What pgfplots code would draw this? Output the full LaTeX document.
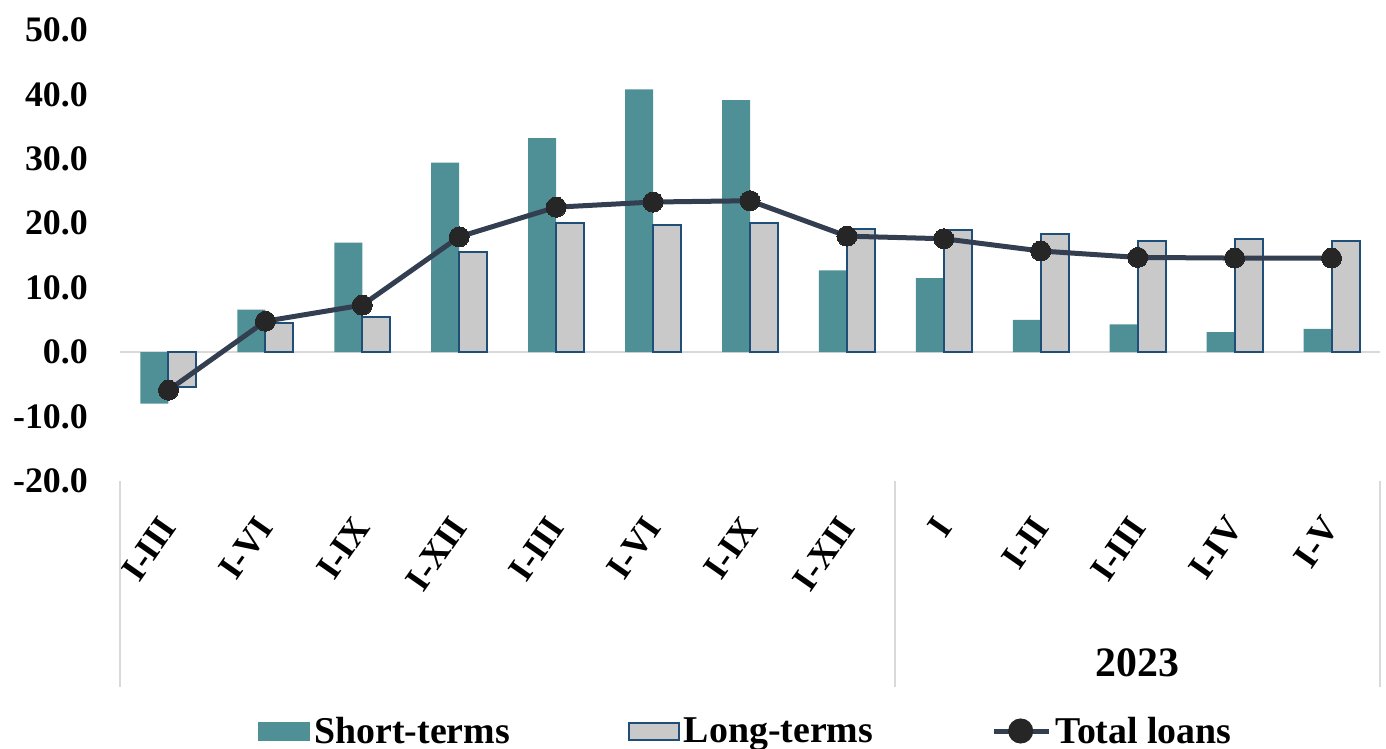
\documentclass[border=0pt]{standalone}
\usepackage{fontspec}
\setmainfont{Liberation Serif}
\usepackage{pgfplots}
\pgfplotsset{compat=1.18}
\definecolor{teal1}{HTML}{4F9097}
\definecolor{gray1}{HTML}{C9C9C9}
\definecolor{blue1}{HTML}{1F4E79}
\definecolor{line1}{HTML}{333F50}
\definecolor{mark1}{HTML}{262626}
\definecolor{sep1}{HTML}{D9D9D9}
\begin{document}
\begin{tikzpicture}
\useasboundingbox (0,0) rectangle (1386bp,749bp);
\begin{axis}[
  at={(120bp,268bp)}, anchor=south west,
  scale only axis, width=1260bp, height=451bp,
  xmin=-0.5, xmax=12.5, ymin=-20, ymax=50,
  clip=false,
  ytick={-20,-10,0,10,20,30,40,50},
  yticklabels={-20.0,-10.0,0.0,10.0,20.0,30.0,40.0,50.0},
  xtick={0,1,2,3,4,5,6,7,8,9,10,11,12},
  xticklabels={I-III,I-VI,I-IX,I-XII,I-III,I-VI,I-IX,I-XII,I,I-II,I-III,I-IV,I-V},
  axis line style={draw=none},
  major tick length=0pt,
  tick style={draw=none},
  yticklabel style={font=\fontsize{36}{40}\selectfont\bfseries, anchor=east, inner sep=0pt, xshift=-32bp},
  xticklabel style={font=\fontsize{36}{40}\selectfont\bfseries, inner sep=0pt, yshift=-40bp, rotate=55, anchor=east},
  extra y ticks={0}, extra y tick labels={},
  extra y tick style={grid=major, major grid style={draw=sep1, line width=2bp}},
  legend style={at={(axis description cs:0.5,0)}, anchor=center, xshift=-4bp, yshift=-250bp,
    draw=none, fill=none, legend columns=3,
    font=\fontsize{38}{42}\selectfont\bfseries,
    /tikz/every even column/.append style={column sep=116bp},
    /tikz/every odd column/.append style={column sep=2bp},
    nodes={inner sep=2bp}},
  legend cell align=left,
]
\addplot[ybar, bar width=28bp, bar shift=-14bp, fill=teal1, draw=none,
  legend image code/.code={\fill[teal1] (0bp,-9.5bp) rectangle (52bp,9.5bp);}]
  coordinates {(0,-8.0) (1,6.6) (2,17.0) (3,29.4) (4,33.2) (5,40.8) (6,39.1) (7,12.7) (8,11.5) (9,5.0) (10,4.3) (11,3.1) (12,3.6)};
\addlegendentry{Short-terms}
\addplot[ybar, bar width=28bp, bar shift=14bp, fill=gray1, draw=blue1, line width=2bp,
  legend image code/.code={\draw[fill=gray1, draw=blue1, line width=2bp] (1bp,-8.5bp) rectangle (51bp,8.5bp);}]
  coordinates {(0,-5.4) (1,4.5) (2,5.5) (3,15.6) (4,20.0) (5,19.8) (6,20.1) (7,19.1) (8,18.9) (9,18.3) (10,17.2) (11,17.5) (12,17.2)};
\addlegendentry{Long-terms}
\addplot[line1, line width=5bp, mark=*, mark size=10bp, mark options={fill=mark1, draw=mark1, line width=0pt},
  legend image code/.code={\draw[line1, line width=5bp] (0bp,0bp) -- (55bp,0bp); \fill[mark1] (27bp,0bp) circle (10bp);}]
  coordinates {(0,-5.9) (1,4.8) (2,7.3) (3,17.9) (4,22.5) (5,23.3) (6,23.5) (7,18.0) (8,17.6) (9,15.7) (10,14.7) (11,14.6) (12,14.6)};
\addlegendentry{Total loans}
\draw[sep1, line width=2bp] (axis cs:-0.5,-20) -- ++(0pt,-206bp);
\draw[sep1, line width=2bp] (axis cs:7.5,-20) -- ++(0pt,-206bp);
\draw[sep1, line width=2bp] (axis cs:12.5,-20) -- ++(0pt,-206bp);
\node[font=\fontsize{42}{46}\selectfont\bfseries, inner sep=0pt] at ([yshift=-182bp]axis cs:10,-20) {2023};
\end{axis}
\end{tikzpicture}
\end{document}
